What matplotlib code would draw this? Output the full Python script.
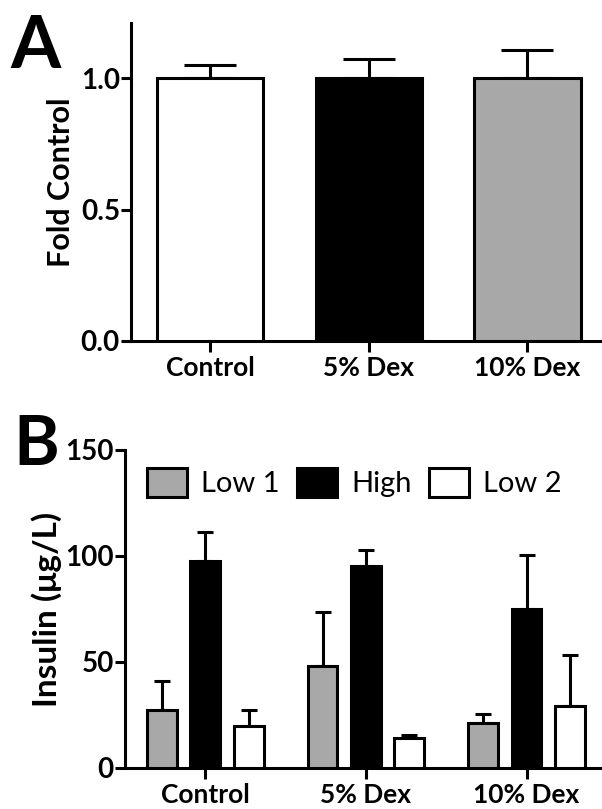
import matplotlib
matplotlib.use("Agg")
import matplotlib.pyplot as plt
from matplotlib.patches import Patch
import numpy as np

plt.rcParams['font.family'] = ['Lato', 'DejaVu Sans']

# panel A
groups = ["Control", "5% Dex", "10% Dex"]
fold_mean = [1.0, 1.0, 1.0]
fold_err = [0.05, 0.072, 0.106]
fold_colors = ['white', 'black', '#a8a8a8']

# panel B
series = ["Low 1", "High", "Low 2"]
ins_mean = {
    "Low 1": [27.5, 48.3, 21.2],
    "High": [97.8, 95.1, 75.2],
    "Low 2": [20.0, 14.2, 29.4],
}
ins_err = {
    "Low 1": [13.7, 25.4, 4.3],
    "High": [13.5, 7.9, 25.1],
    "Low 2": [7.5, 1.5, 23.7],
}
ins_colors = {"Low 1": '#a8a8a8', "High": 'black', "Low 2": 'white'}

W, H = 602, 809
fig = plt.figure(figsize=(W / 100, H / 100), dpi=100)

lw = 2.2
x = np.arange(len(groups))

# ---- A ----
axA = fig.add_axes([131 / W, 1 - 341 / H, 1 - 131 / W, (341 - 23) / H])
axA.bar(x, fold_mean, width=0.67, color=fold_colors, edgecolor='black', linewidth=lw, zorder=3)
axA.errorbar(x, fold_mean, yerr=[np.zeros(3), fold_err], fmt='none', ecolor='black',
             elinewidth=lw, capsize=19, capthick=lw, zorder=2)
axA.set_xlim(-0.5, 2.47)
axA.set_ylim(0, 1.21)
axA.set_yticks([0, 0.5, 1.0])
axA.set_yticklabels(["0.0", "0.5", "1.0"])
axA.set_xticks(x)
axA.set_xticklabels(groups)
axA.set_ylabel("Fold Control", fontsize=22, fontweight='bold', labelpad=4)
fig.text(10 / W, 1 - 68 / H, "A", fontsize=52, fontweight='bold', ha='left', va='baseline')

# ---- B ----
axB = fig.add_axes([125 / W, 1 - 768 / H, 1 - 125 / W, (768 - 450) / H])
bw = 0.185
offs = [-0.27, 0.0, 0.27]
for s, o in zip(series, offs):
    axB.bar(x + o, ins_mean[s], width=bw, color=ins_colors[s], edgecolor='black', linewidth=lw, zorder=3)
    axB.errorbar(x + o, ins_mean[s], yerr=[np.zeros(3), ins_err[s]], fmt='none', ecolor='black',
                 elinewidth=lw, capsize=6, capthick=lw, zorder=2)
axB.set_xlim(-0.5, 2.47)
axB.set_ylim(0, 150)
axB.set_yticks([0, 50, 100, 150])
axB.set_xticks(x)
axB.set_xticklabels(groups)
axB.set_ylabel("Insulin (\u03bcg/L)", fontsize=24, fontweight='bold', labelpad=2)
handles = [Patch(facecolor=ins_colors[s], edgecolor='black', linewidth=lw) for s in series]
axB.legend(handles, series, loc='upper left', bbox_to_anchor=(0.01, 1.0), ncol=3, frameon=False,
           fontsize=21, handlelength=1.35, handleheight=1.2, handletextpad=0.5, columnspacing=0.6,
           borderaxespad=0.2)
fig.text(13 / W, 1 - 465 / H, "B", fontsize=50, fontweight='bold', ha='left', va='baseline')

for ax in (axA, axB):
    for sp in ('top', 'right'):
        ax.spines[sp].set_visible(False)
    for sp in ('left', 'bottom'):
        ax.spines[sp].set_linewidth(lw)
    ax.tick_params(axis='y', length=7, width=lw, labelsize=20, pad=1)
    ax.tick_params(axis='x', length=8, width=lw, labelsize=19, pad=3)
    for lab in ax.get_xticklabels() + ax.get_yticklabels():
        lab.set_fontweight('bold')

fig.savefig("out.png", dpi=100)
